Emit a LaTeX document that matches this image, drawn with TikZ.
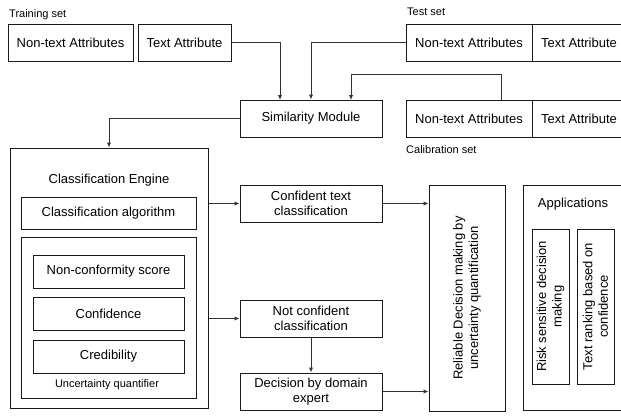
\documentclass[tikz,border=0pt]{standalone}
\usepackage{fontspec}
\setmainfont{Liberation Sans}
\usetikzlibrary{arrows.meta}
\begin{document}
\begin{tikzpicture}[
    x=1pt, y=-1pt,
    font=\fontsize{13}{15.5}\selectfont,
    bx/.style={draw=black!90, line width=1pt, inner sep=2pt, align=center},
    lb/.style={font=\fontsize{11}{13}\selectfont, inner sep=0pt},
    ar/.style={black!80, line width=1pt, -{Latex[length=5pt, width=4.5pt]}},
  ]

  % ---- area ------------------------------------------------------------------
  % coordinate in pixel: (0,0) in alto a sinistra, (621,415) in basso a destra
  \useasboundingbox (0,0) rectangle (621,415);

  % ---- i tre insiemi di dati ---------------------------------------------------
  \node[bx, minimum width=125pt, minimum height=37pt] (trNT) at (70.5,42.5)  {Non-text Attributes};
  \node[bx, minimum width=93pt,  minimum height=37pt] (trT)  at (184.5,42.5) {Text Attribute};
  \node[bx, minimum width=126pt, minimum height=37pt] (teNT) at (469,42.5)   {Non-text Attributes};
  \node[bx, minimum width=94pt,  minimum height=37pt] (teT)  at (579,42.5)   {Text Attribute};
  \node[bx, minimum width=126pt, minimum height=37pt] (caNT) at (469,118.5)  {Non-text Attributes};
  \node[bx, minimum width=94pt,  minimum height=37pt] (caT)  at (579,118.5)  {Text Attribute};

  \node[lb, anchor=base west] (trLab) at (9,17.5)  {Training set};
  \node[lb, anchor=base west] (teLab) at (407,15)  {Test set};
  \node[lb, anchor=base west] (caLab) at (406,153) {Calibration set};

  \node[bx, minimum width=142pt, minimum height=37pt] (sim) at (311,118.5) {Similarity Module};

  % ---- motore di classificazione ----------------------------------------------
  \node[bx, minimum width=198pt, minimum height=260pt] (engine) at (109,278) {};
  \node[anchor=base, inner sep=0pt] (engLab) at (109,183) {Classification Engine};
  \node[bx, minimum width=175pt, minimum height=32pt]  (algo) at (108.5,213)   {Classification algorithm};
  \node[bx, minimum width=175pt, minimum height=161pt] (uq)   at (108.5,317.5) {};
  \node[bx, minimum width=151pt, minimum height=33pt]  (ncs)  at (108.5,271.5) {Non-conformity score};
  \node[bx, minimum width=151pt, minimum height=33pt]  (conf) at (108.5,313.5) {Confidence};
  \node[bx, minimum width=151pt, minimum height=33pt]  (cred) at (108.5,356.5) {Credibility};
  \node[lb, anchor=base] (uqLab) at (107,387) {Uncertainty quantifier};

  % ---- esiti e decisione ------------------------------------------------------
  \node[bx, minimum width=142pt, minimum height=37pt] (ctc) at (311,203.5) {Confident text\\classification};
  \node[bx, minimum width=142pt, minimum height=37pt] (ncc) at (311,318.5) {Not confident\\classification};
  \node[bx, minimum width=142pt, minimum height=37pt] (dde) at (311,391.5) {Decision by domain\\expert};

  \node[bx, rotate=90, minimum width=226pt, minimum height=76pt] (rel) at (467,298)
       {Reliable Decision making by\\uncertainty quantification};

  % ---- applicazioni -----------------------------------------------------------
  \node[bx, minimum width=102pt, minimum height=225pt] (app) at (574,297.5) {};
  \node[anchor=base, inner sep=0pt] (appLab) at (573,207) {Applications};
  \node[bx, rotate=90, minimum width=155pt, minimum height=37pt] (risk) at (550.5,306.5)
       {Risk sensitive decision\\making};
  \node[bx, rotate=90, minimum width=155pt, minimum height=37pt] (rank) at (595.5,306.5)
       {Text ranking based on\\confidence};

  % ---- frecce -----------------------------------------------------------------
  \coordinate (simIn1) at (280,100);
  \coordinate (simIn2) at (351,100);
  \coordinate (caOut)  at (501,100);

  \draw[ar] (trT.east)  -| (simIn1);
  \draw[ar] (teNT.west) -| (sim.north);
  \draw[ar] (caOut) -- ++(0,-26) -| (simIn2);
  \draw[ar] (sim.west)  -| (engine.north);

  \draw[ar] (engine.east |- ctc.west) -- (ctc.west);
  \draw[ar] (engine.east |- ncc.west) -- (ncc.west);
  \draw[ar] (ncc.south) -- (dde.north);
  \draw[ar] (ctc.east) -- (rel.north |- ctc.east);
  \draw[ar] (dde.east) -- (rel.north |- dde.east);

\end{tikzpicture}
\end{document}
